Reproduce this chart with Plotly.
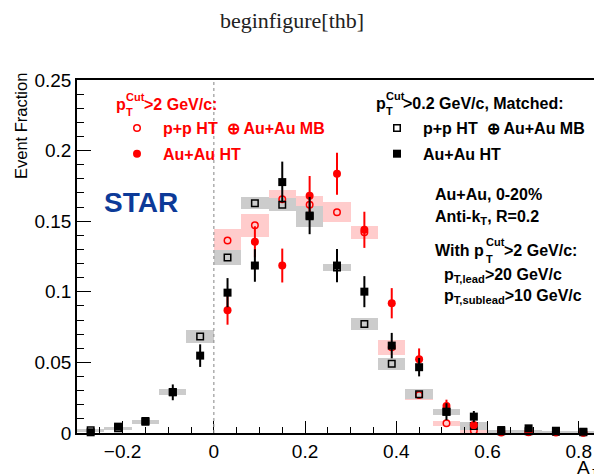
import plotly.graph_objects as go

# ---------------- data ----------------
x_bins = [-0.27, -0.21, -0.15, -0.09, -0.03, 0.03, 0.09, 0.15, 0.21, 0.27,
          0.33, 0.39, 0.45, 0.51, 0.57, 0.63, 0.69, 0.75, 0.81]

# pT^Cut > 0.2 GeV/c, matched  (black)
auau_ht_matched = [0.0005, 0.0045, 0.0085, 0.0288, 0.0548, 0.0994, 0.1186, 0.1777, 0.154, 0.1186,
                   0.1001, 0.0619, 0.0466, 0.0151, 0.0116, 0.0021, 0.0033, 0.0016, 0.0009]
auau_ht_matched_err = [0.0007, 0.0015, 0.002, 0.0056, 0.008, 0.0103, 0.0115, 0.0145, 0.0132, 0.0118,
                       0.011, 0.009, 0.0065, 0.006, 0.004, 0.0015, 0.0015, 0.001, 0.0008]
pp_mb_matched = [0.002, 0.0033, 0.008, 0.029, 0.0683, 0.1243, 0.1628, 0.1616, 0.1535, 0.1172,
                 0.0772, 0.049, 0.0274, 0.0151, 0.005, 0.0012, 0.0012, 0.0008, 0.0005]
pp_mb_matched_sys = [0.001, 0.0012, 0.0015, 0.002, 0.0045, 0.0053, 0.004, 0.0047, 0.0076, 0.0027,
                     0.0045, 0.0043, 0.0035, 0.002, 0.0027, 0.001, 0.001, 0.0008, 0.0005]

# pT^Cut > 2 GeV/c  (red)
x_bins_hard = [0.03, 0.09, 0.15, 0.21, 0.27, 0.33, 0.39, 0.45, 0.51, 0.57, 0.63, 0.69, 0.75, 0.81]
auau_ht_hard = [0.087, 0.1354, 0.1186, 0.168, 0.1836, 0.1439, 0.0919, 0.0522, 0.0191, 0.0057,
                0.001, 0.001, 0.0008, 0.0003]
auau_ht_hard_err = [0.0103, 0.011, 0.012, 0.014, 0.0148, 0.0128, 0.0107, 0.0077, 0.0045, 0.0025,
                    0.001, 0.001, 0.0008, 0.0005]
pp_mb_hard = [0.1363, 0.1472, 0.1656, 0.1616, 0.1564, 0.1422, 0.0607, 0.027, 0.0069, 0.0016,
              0.0003, 0.0005, 0.0003, 0.0002]
pp_mb_hard_sys = [0.0079, 0.0082, 0.0068, 0.006, 0.0069, 0.0047, 0.0053, 0.0035, 0.0016, 0.0015,
                  0.0008, 0.0008, 0.0005, 0.0005]

bin_width = 0.06

# ---------------- style ----------------
FONT = "Liberation Sans"
RED = "#ff0000"
PINK = "#ffcccc"
GREY = "#cccccc"
STAR_BLUE = "#0c3a98"

# the page body adds an 8px margin; size the figure so it ends at the window edge
OFF = 8
W, H = 602 - OFF, 474 - OFF
PLOT_L, PLOT_T, PLOT_R, PLOT_B = 77, 80, 597, 433      # plot area in window pixels
ML, MT = PLOT_L - OFF, PLOT_T - OFF
MR, MB = 602 - PLOT_R, 474 - PLOT_B
PW, PH = PLOT_R - PLOT_L, PLOT_B - PLOT_T

fig = go.Figure()

# systematic boxes
fig.add_trace(go.Bar(x=x_bins_hard, y=[2 * s for s in pp_mb_hard_sys],
                     base=[v - s for v, s in zip(pp_mb_hard, pp_mb_hard_sys)],
                     width=bin_width, marker=dict(color=PINK, line=dict(width=0)),
                     showlegend=False, hoverinfo="skip"))
fig.add_trace(go.Bar(x=x_bins, y=[2 * s for s in pp_mb_matched_sys],
                     base=[v - s for v, s in zip(pp_mb_matched, pp_mb_matched_sys)],
                     width=bin_width, marker=dict(color=GREY, line=dict(width=0)),
                     showlegend=False, hoverinfo="skip"))

NAME_MB = "<b>p+p HT\u00a0 \u2295 Au+Au MB</b>"
NAME_HT = "<b>Au+Au HT</b>"

fig.add_trace(go.Scatter(x=x_bins_hard, y=pp_mb_hard, mode="markers", name=NAME_MB,
                         legendgroup="r1", legend="legend",
                         marker=dict(symbol="circle-open", size=6.5, color=RED, line=dict(width=1.5, color=RED)),
                         cliponaxis=False))
fig.add_trace(go.Scatter(x=x_bins, y=pp_mb_matched, mode="markers", name=NAME_MB,
                         legendgroup="b1", legend="legend2",
                         marker=dict(symbol="square-open", size=6.5, color="black", line=dict(width=1.5, color="black")),
                         cliponaxis=False))
fig.add_trace(go.Scatter(x=x_bins_hard, y=auau_ht_hard, mode="markers", name=NAME_HT,
                         legendgroup="r2", legend="legend",
                         marker=dict(symbol="circle", size=8, color=RED),
                         error_y=dict(type="data", array=auau_ht_hard_err, color=RED, thickness=2, width=0),
                         cliponaxis=False))
fig.add_trace(go.Scatter(x=x_bins, y=auau_ht_matched, mode="markers", name=NAME_HT,
                         legendgroup="b2", legend="legend2",
                         marker=dict(symbol="square", size=8, color="black"),
                         error_y=dict(type="data", array=auau_ht_matched_err, color="black", thickness=2, width=0),
                         cliponaxis=False))

# dashed line at A_J = 0
fig.add_shape(type="line", xref="x", yref="paper", x0=0, x1=0, y0=0, y1=1,
              line=dict(color="#999999", width=1.2, dash="3px,3px"), layer="above")


def ann(px, py, text, size, color="black", xanchor="left", yanchor="middle", **kw):
    d = dict(xref="paper", yref="paper", x=0, y=1, xshift=px - PLOT_L, yshift=-(py - PLOT_T),
             text=text, showarrow=False, xanchor=xanchor, yanchor=yanchor,
             font=dict(size=size, color=color, family=FONT), borderpad=0)
    d.update(kw)
    return d


annotations = [
    # red header  pT^Cut > 2 GeV/c
    ann(115, 104, "<b>p</b>", 16, RED),
    ann(125, 97, "<b>Cut</b>", 11, RED),
    ann(125, 112, "<b>T</b>", 11, RED),
    ann(143, 104, "<b>&gt;2 GeV/c:</b>", 16, RED),
    # black header  pT^Cut > 0.2 GeV/c, Matched
    ann(375, 103, "<b>p</b>", 16),
    ann(385, 96, "<b>Cut</b>", 11),
    ann(385, 111, "<b>T</b>", 11),
    ann(402, 103, "<b>&gt;0.2 GeV/c, Matched:</b>", 16),
    # STAR
    ann(103, 202, "<b>STAR</b>", 28, STAR_BLUE),
    # right block
    ann(434, 194, "<b>Au+Au, 0-20%</b>", 16),
    ann(434, 217, "<b>Anti-k<sub>T</sub>, R=0.2</b>", 16),
    ann(434, 250, "<b>With p</b>", 16),
    ann(485, 242, "<b>Cut</b>", 11),
    ann(485, 259, "<b>T</b>", 11),
    ann(503, 250, "<b>&gt;2 GeV/c:</b>", 16),
    ann(443, 275, "<b>p<sub>T,lead</sub>&gt;20 GeV/c</b>", 16),
    ann(443, 296, "<b>p<sub>T,sublead</sub>&gt;10 GeV/c</b>", 16),
    # axis titles
    ann(21, 126, "Event Fraction", 16.5, xanchor="center", textangle=-90),
    ann(597, 456, "A<sub>J</sub>", 19, xanchor="right", yanchor="top"),
]

fig.update_layout(
    width=W, height=H,
    margin=dict(l=ML, r=MR, t=MT, b=MB, pad=0, autoexpand=False),
    paper_bgcolor="white", plot_bgcolor="white",
    barmode="overlay", bargap=0,
    title=dict(text="beginfigure[thb]", x=(292 - OFF) / W, xanchor="center",
               y=1 - (20 - OFF) / H, yanchor="middle",
               xref="container", yref="container",
               font=dict(family="Liberation Serif", size=22, color="#222222")),
    font=dict(family=FONT, color="black"),
    showlegend=True,
    legend=dict(x=(111 - PLOT_L) / PW, y=(PLOT_B - 111) / PH, xanchor="left", yanchor="top",
                bgcolor="rgba(0,0,0,0)", borderwidth=0, itemwidth=42,
                traceorder="grouped", tracegroupgap=2,
                font=dict(size=16, family=FONT, color=RED)),
    legend2=dict(x=(371 - PLOT_L) / PW, y=(PLOT_B - 111) / PH, xanchor="left", yanchor="top",
                 bgcolor="rgba(0,0,0,0)", borderwidth=0, itemwidth=42,
                 traceorder="grouped", tracegroupgap=2,
                 font=dict(size=16, family=FONT, color="black")),
    annotations=annotations,
)

fig.update_xaxes(range=[-0.3, 0.84], showgrid=False, zeroline=False, automargin=False,
                 showline=True, linecolor="black", linewidth=1.5, mirror=True,
                 ticks="inside", ticklen=12, tickwidth=1, tickcolor="black", dtick=0.2, tick0=0,
                 minor=dict(ticks="inside", ticklen=6, dtick=0.05, tick0=0, tickcolor="black", tickwidth=1),
                 tickfont=dict(size=19, family=FONT, color="black"))
fig.update_yaxes(range=[0, 0.25], showgrid=False, zeroline=False, automargin=False,
                 showline=True, linecolor="black", linewidth=1.5, mirror=True,
                 ticks="inside", ticklen=14, tickwidth=1, tickcolor="black", dtick=0.05, tick0=0,
                 minor=dict(ticks="inside", ticklen=7, dtick=0.01, tick0=0, tickcolor="black", tickwidth=1),
                 tickfont=dict(size=19, family=FONT, color="black"))

fig.write_html("out.html")
